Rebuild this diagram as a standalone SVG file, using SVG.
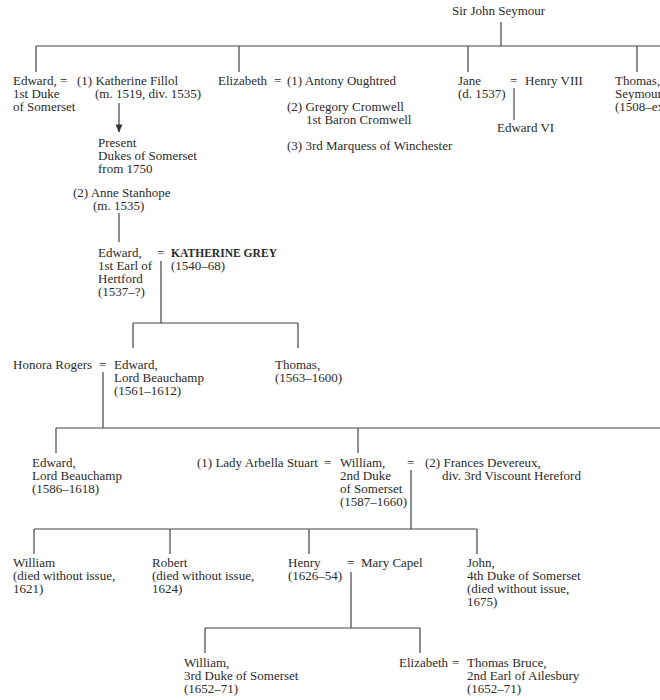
<svg xmlns="http://www.w3.org/2000/svg" width="660" height="700" viewBox="0 0 660 700">
<style>
text{font-family:"Liberation Serif","Times New Roman",serif;font-size:13px;fill:#2a2a2a}
.b{font-weight:bold;font-size:12px}
.l{stroke:#444;stroke-width:1.2;fill:none}
</style>
<defs>
<marker id="ah" viewBox="0 0 10 10" refX="9" refY="5" markerWidth="7" markerHeight="7" orient="auto">
<path d="M0,1 L10,5 L0,9 Z" fill="#333"/>
</marker>
</defs>
<rect width="660" height="700" fill="#fff"/>
<g id="connectors">
<path class="l" d="M501,22 V46 M36,46 H660 M36,46 V72 M239,46 V72 M468,46 V72 M637,46 V72"/>
<path class="l" d="M514,88 V120"/>
<path class="l" d="M119,103 V132" marker-end="url(#ah)"/>
<path class="l" d="M119,213 V242"/>
<path class="l" d="M161,261 V323 M133,323 H298 M133,323 V348 M298,323 V348"/>
<path class="l" d="M103,372 V428 M56,428 H660 M56,428 V453 M358,428 V453"/>
<path class="l" d="M411,470 V529 M34,529 H477 M34,529 V554 M170,529 V554 M309,529 V554 M477,529 V554"/>
<path class="l" d="M351,572 V628 M205,628 H420 M205,628 V653 M420,628 V653"/>
</g>
<g id="sir-john"><text x="452" y="15">Sir John Seymour</text></g>
<g id="edward-duke"><text x="13" y="85">Edward,<tspan x="13" y="98">1st Duke</tspan><tspan x="13" y="111">of Somerset</tspan></text><text x="60" y="85">=</text></g>
<g id="katherine-fillol"><text x="77" y="85">(1) Katherine Fillol<tspan x="95" y="98">(m. 1519, div. 1535)</tspan></text></g>
<g id="present-dukes"><text x="98" y="147">Present<tspan x="98" y="160">Dukes of Somerset</tspan><tspan x="98" y="173">from 1750</tspan></text></g>
<g id="anne-stanhope"><text x="73" y="197">(2) Anne Stanhope<tspan x="93" y="210">(m. 1535)</tspan></text></g>
<g id="elizabeth"><text x="218" y="85">Elizabeth</text><text x="274" y="85">=</text></g>
<g id="oughtred"><text x="287" y="85">(1) Antony Oughtred</text></g>
<g id="cromwell"><text x="287" y="111">(2) Gregory Cromwell<tspan x="306" y="124">1st Baron Cromwell</tspan></text></g>
<g id="winchester"><text x="287" y="150">(3) 3rd Marquess of Winchester</text></g>
<g id="jane"><text x="458" y="85">Jane<tspan x="458" y="98">(d. 1537)</tspan></text><text x="510" y="85">=</text></g>
<g id="henry-viii"><text x="525" y="85">Henry VIII</text></g>
<g id="edward-vi"><text x="497" y="132">Edward VI</text></g>
<g id="thomas-seymour"><text x="615" y="85">Thomas,<tspan x="615" y="98">Seymour</tspan><tspan x="615" y="111">(1508–ex</tspan></text></g>
<g id="edward-hertford"><text x="98" y="257">Edward,<tspan x="98" y="270">1st Earl of</tspan><tspan x="98" y="283">Hertford</tspan><tspan x="98" y="296">(1537–?)</tspan></text><text x="157" y="257">=</text></g>
<g id="katherine-grey"><text x="171" y="257" class="b" textLength="106" lengthAdjust="spacingAndGlyphs">KATHERINE GREY</text><text x="171" y="270">(1540–68)</text></g>
<g id="honora-rogers"><text x="13" y="369">Honora Rogers</text><text x="99" y="369">=</text></g>
<g id="edward-beauchamp-1561"><text x="114" y="369">Edward,<tspan x="114" y="382">Lord Beauchamp</tspan><tspan x="114" y="395">(1561–1612)</tspan></text></g>
<g id="thomas-1563"><text x="275" y="369">Thomas,<tspan x="275" y="382">(1563–1600)</tspan></text></g>
<g id="edward-beauchamp-1586"><text x="32" y="467">Edward,<tspan x="32" y="480">Lord Beauchamp</tspan><tspan x="32" y="493">(1586–1618)</tspan></text></g>
<g id="arbella"><text x="197" y="467">(1) Lady Arbella Stuart</text><text x="324" y="467">=</text></g>
<g id="william-2nd"><text x="340" y="467">William,<tspan x="340" y="480">2nd Duke</tspan><tspan x="340" y="493">of Somerset</tspan><tspan x="340" y="506">(1587–1660)</tspan></text><text x="407" y="467">=</text></g>
<g id="frances"><text x="425" y="467">(2) Frances Devereux,<tspan x="442" y="480">div. 3rd Viscount Hereford</tspan></text></g>
<g id="william-1621"><text x="13" y="567">William<tspan x="13" y="580">(died without issue,</tspan><tspan x="13" y="593">1621)</tspan></text></g>
<g id="robert"><text x="152" y="567">Robert<tspan x="152" y="580">(died without issue,</tspan><tspan x="152" y="593">1624)</tspan></text></g>
<g id="henry"><text x="288" y="567">Henry<tspan x="288" y="580">(1626–54)</tspan></text><text x="347" y="567">=</text></g>
<g id="mary-capel"><text x="361" y="567">Mary Capel</text></g>
<g id="john"><text x="467" y="567">John,<tspan x="467" y="580">4th Duke of Somerset</tspan><tspan x="467" y="593">(died without issue,</tspan><tspan x="467" y="606">1675)</tspan></text></g>
<g id="william-3rd"><text x="184" y="667">William,<tspan x="184" y="680">3rd Duke of Somerset</tspan><tspan x="184" y="693">(1652–71)</tspan></text></g>
<g id="elizabeth-bruce"><text x="399" y="667">Elizabeth</text><text x="452" y="667">=</text></g>
<g id="thomas-bruce"><text x="467" y="667">Thomas Bruce,<tspan x="467" y="680">2nd Earl of Ailesbury</tspan><tspan x="467" y="693">(1652–71)</tspan></text></g>
</svg>
